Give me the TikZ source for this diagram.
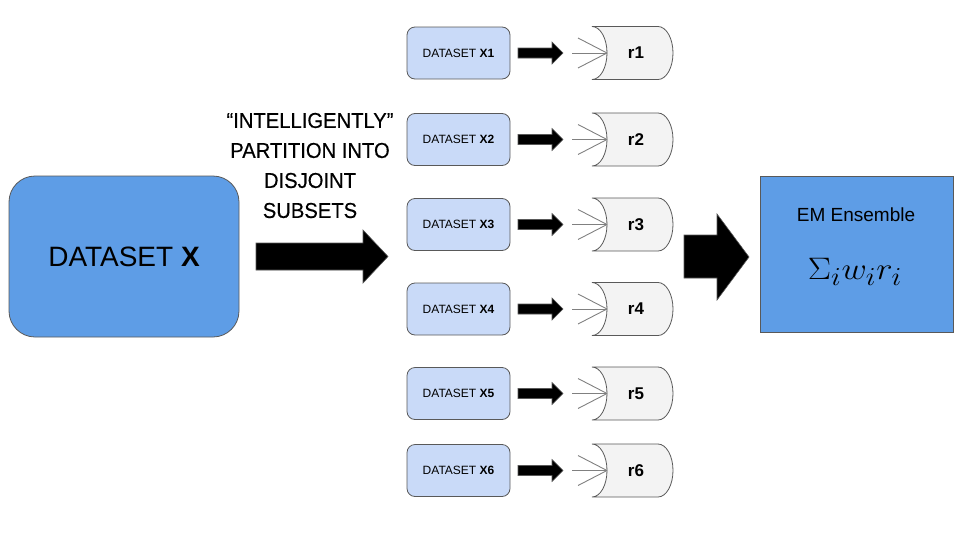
\documentclass[tikz,border=0pt]{standalone}
\usepackage{fontspec}
\setmainfont{Liberation Sans}
\newfontfamily\condfont{Liberation Sans}[FakeStretch=0.94,FakeBold=0.4]
\definecolor{bigblue}{HTML}{5E9DE6}
\definecolor{lightblue}{HTML}{C9DAF8}
\definecolor{shapegray}{HTML}{F3F3F3}
\definecolor{edgegray}{HTML}{595959}
\definecolor{thingray}{HTML}{808080}
\begin{document}
\begin{tikzpicture}[x=1pt,y=-1pt,
  bigbox/.style={draw=edgegray,line width=0.8pt,fill=bigblue,rounded corners=26pt,
    minimum width=230pt,minimum height=161pt,inner sep=0pt,
    font=\fontsize{28}{34}\selectfont},
  smallbox/.style={draw=edgegray,line width=0.8pt,fill=lightblue,rounded corners=8pt,
    minimum width=103pt,minimum height=52pt,inner sep=0pt,
    font=\fontsize{12}{14}\selectfont},
  embox/.style={draw=edgegray,line width=0.8pt,fill=bigblue,
    minimum width=193pt,minimum height=156pt,inner sep=0pt},
  rlabel/.style={inner sep=0pt,font=\fontsize{17}{20}\selectfont\bfseries},
  rshape/.style={draw=edgegray,line width=0.8pt,fill=shapegray},
  blockarrow/.style={fill=black,draw=edgegray,line width=0.6pt},
  thinline/.style={draw=thingray,line width=0.9pt}
]
\useasboundingbox (0,0) rectangle (963,533);

% big dataset box
\node[bigbox] (dsx) at (124,256.5) {DATASET \textbf{X}};

% partition text
\node[inner sep=0pt,align=center,font=\condfont\fontsize{21.5}{30}\selectfont] (parttext) at (310,165.5)
  {“INTELLIGENTLY”\\PARTITION INTO\\DISJOINT\\SUBSETS};

% big arrow 1
\draw[blockarrow] (256,243) -- (363,243) -- (363,230) -- (388,256.5) -- (363,283) -- (363,270) -- (256,270) -- cycle;

% rows
\foreach \i/\c in {1/53,2/139.5,3/224.5,4/309,5/393.5,6/470.5}{
  \node[smallbox] (d\i) at (458.5,\c) {DATASET \textbf{X\i}};
  % small block arrow
  \draw[blockarrow] (518,\c-5) -- (552,\c-5) -- (552,\c-11) -- (563,\c) -- (552,\c+11) -- (552,\c+5) -- (518,\c+5) -- cycle;
  % storage shape
  \draw[rshape] (592,\c-26.5) -- (658,\c-26.5)
     arc[start angle=-90,end angle=90,x radius=15,y radius=26.5]
     -- (592,\c+26.5)
     arc[start angle=90,end angle=-90,x radius=15,y radius=26.5] -- cycle;
  \coordinate (rin\i) at (607,\c);
  \node[rlabel] (r\i) at (636,\c) {r\i};
  % open arrow
  \coordinate (ts\i) at (572,\c);
  \coordinate (tu\i) at (578,\c-15);
  \coordinate (tl\i) at (578,\c+15);
  \draw[thinline] (ts\i) -- (rin\i);
  \draw[thinline] (tu\i) -- (rin\i);
  \draw[thinline] (tl\i) -- (rin\i);
}

% big arrow 2
\draw[blockarrow] (684,235) -- (717,235) -- (717,214) -- (749,257) -- (717,300) -- (717,278) -- (684,278) -- cycle;

% EM ensemble box
\node[embox] (em) at (856.5,254) {};
\node[inner sep=0pt,font=\fontsize{19}{23}\selectfont] (emtitle) at (856,215) {EM Ensemble};
\node[inner sep=0pt] (emmath) at (855,272) {\fontsize{24.88}{30}\selectfont\scalebox{1.4}[1.25]{$\Sigma_i w_i r_i$}};
\end{tikzpicture}
\end{document}
